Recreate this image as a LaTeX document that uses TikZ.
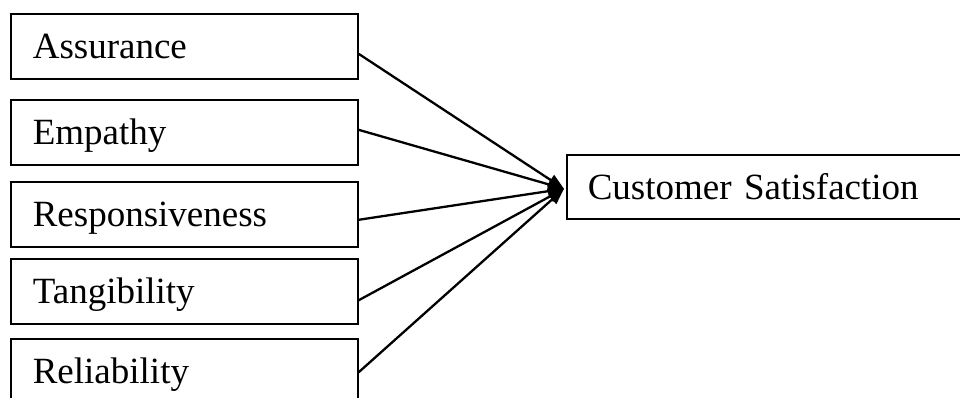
\documentclass[tikz,border=0pt]{standalone}
\usepackage{fontspec}
\setmainfont{Liberation Serif}
\usetikzlibrary{arrows.meta}
\begin{document}
\begin{tikzpicture}[x=1pt,y=-1pt,
  factor/.style={draw, line width=1.6pt, anchor=north west, minimum height=65pt,
    text width=303pt, inner xsep=22pt, align=left, font=\fontsize{37}{40}\selectfont,
    text height=25pt, text depth=0pt},
  outcome/.style={draw, line width=1.6pt, anchor=north west, minimum height=64pt,
    text width=400pt, inner xsep=21pt, align=left, font=\fontsize{37}{40}\selectfont,
    text height=25pt, text depth=0pt},
  link/.style={line width=2.3pt, -{Triangle[length=16pt,width=12pt]}}]
\useasboundingbox (0,0) rectangle (960,398);
\clip (0,0) rectangle (960,398);
\fill[white] (0,0) rectangle (960,398);
\node[factor] (a) at (10,13) {Assurance};
\node[factor] (e) at (10,99) {Empathy};
\node[factor] (r) at (10,181) {Responsiveness};
\node[factor] (t) at (10,258) {Tangibility};
\node[factor] (l) at (10,338) {Reliability};
\node[outcome] (cs) at (566,154) {Customer Satisfaction};
\coordinate (tip) at ([xshift=-2pt,yshift=-2pt]cs.west);
\draw[link] ([yshift=-7.5pt]a.east) -- (tip);
\draw[link] ([yshift=2.5pt]e.east) -- (tip);
\draw[link] ([yshift=-5.5pt]r.east) -- (tip);
\draw[link] ([yshift=-9pt]t.east) -- (tip);
\draw[link] ([yshift=-1pt]l.east) -- (tip);
\end{tikzpicture}
\end{document}
